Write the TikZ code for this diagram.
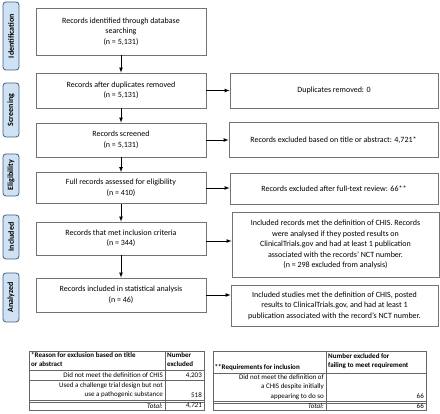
\documentclass[tikz,border=0pt]{standalone}
\usepackage{fontspec}
\setmainfont{Carlito}
\usetikzlibrary{arrows,positioning}
\definecolor{stagefill}{RGB}{207,226,243}
\definecolor{stagedraw}{RGB}{62,96,132}
\tikzset{
	box/.style={draw=black!55, line width=0.8pt, align=center, inner sep=2pt,
			font=\fontsize{8}{10.5}\selectfont},
	stage/.style={draw=stagedraw, fill=stagefill, line width=0.8pt, rounded corners=3pt,
			rotate=90, minimum height=16pt, inner sep=0pt,
			font=\fontsize{8}{9}\selectfont\bfseries},
	flow/.style={-latex, line width=0.7pt},
	cell/.style={inner sep=1pt, font=\fontsize{7}{9.2}\selectfont},
	grid/.style={draw=black!60, line width=0.5pt}
}

\begin{document}
\begin{tikzpicture}[x=1pt,y=-1pt]
	\useasboundingbox (0,0) rectangle (440,414);

	% stages
	\node[stage, minimum width=68pt] (sid) at (11,36) {Identification};
	\node[stage, minimum width=54pt] (sscr) at (11,110) {Screening};
	\node[stage, minimum width=42pt] (sel) at (11,175) {Eligibility};
	\node[stage, minimum width=44pt] (sinc) at (11,237) {Included};
	\node[stage, minimum width=49pt] (sana) at (11,297.5) {Analyzed};

	% main flow
	\node[box, minimum width=170pt, minimum height=47pt] (ident) at (121,31.5)
		{Records identified through database\\searching\\(n = 5,131)};
	\node[box, minimum width=170pt, minimum height=35pt] (dupl) at (121,90.5)
		{Records after duplicates removed\\(n = 5,131)};
	\node[box, minimum width=170pt, minimum height=34pt] (scrn) at (121,140)
		{Records screened\\(n = 5,131)};
	\node[box, minimum width=170pt, minimum height=31pt] (full) at (121,188)
		{Full records assessed for eligibility\\(n = 410)};
	\node[box, minimum width=170pt, minimum height=33pt] (incl) at (121,238.5)
		{Records that met inclusion criteria\\(n = 344)};
	\node[box, minimum width=170pt, minimum height=34pt] (anal) at (121,295)
		{Records included in statistical analysis\\(n = 46)};

	% side boxes
	\node[box, minimum width=208pt, minimum height=35pt] (xdup) at (334,90.5)
		{Duplicates removed: 0};
	\node[box, minimum width=209pt, minimum height=35pt] (xscr) at (333.5,140)
		{Records excluded based on title or abstract: 4,721*};
	\node[box, minimum width=208pt, minimum height=31pt] (xfull) at (334,188.5)
		{Records excluded after full-text review: 66**};
	\node[box, minimum width=207pt, minimum height=65pt] (xincl) at (335.5,244.5)
		{Included records met the definition of CHIS. Records\\were analysed if they posted results on\\ClinicalTrials.gov and had at least 1 publication\\associated with the records' NCT number.\\(n = 298 excluded from analysis)};
	\node[box, minimum width=207pt, minimum height=41pt] (xanal) at (334.5,305.5)
		{Included studies met the definition of CHIS, posted\\results to ClinicalTrials.gov, and had at least 1\\publication associated with the record's NCT number.};

	\draw[flow] (ident) -- (dupl);
	\draw[flow] (dupl) -- (scrn);
	\draw[flow] (scrn) -- (full);
	\draw[flow] (full) -- (incl);
	\draw[flow] (incl) -- (anal);
	\draw[flow] (dupl.east) -- (dupl.east -| xdup.west);
	\draw[flow] (scrn.east) -- (scrn.east -| xscr.west);
	\draw[flow] (full.east) -- (full.east -| xfull.west);
	\draw[flow] ([yshift=-2.5pt]incl.east) -- ([yshift=-2.5pt]incl.east -| xincl.west);
	\draw[flow] (anal.east) -- (anal.east -| xanal.west);

	% table of reasons
	\draw[grid] (29,351) rectangle (204,410);
	\draw[grid] (165,351) -- (165,410);
	\draw[grid] (29,370) -- (204,370) (29,380) -- (204,380);
	\draw[grid] (29,400.3) -- (204,400.3) (29,401.9) -- (204,401.9);
	\node[cell, anchor=north west, align=left, font=\fontsize{7}{9.2}\selectfont\bfseries] (rhead) at (30,351.5)
		{*Reason for exclusion based on title\\or abstract};
	\node[cell, anchor=north west, align=left, font=\fontsize{7}{9.2}\selectfont\bfseries] (nhead) at (166,351.5)
		{Number\\excluded};
	\node[cell, anchor=east] (rone) at (164,375.3) {Did not meet the definition of CHIS};
	\node[cell, anchor=east] (none) at (203,375.3) {4,203};
	\node[cell, anchor=east, align=right] (rtwo) at (164,390.2)
		{Used a challenge trial design but not\\use a pathogenic substance};
	\node[cell, anchor=east] (ntwo) at (203,395.2) {518};
	\node[cell, anchor=east] (rtot) at (164,406) {\textit{Total:}};
	\node[cell, anchor=east] (ntot) at (203,406) {\textit{4,721}};

	% table of requirements
	\draw[grid] (213,351) rectangle (426,410);
	\draw[grid] (326,351) -- (326,410);
	\draw[grid] (213,373) -- (426,373);
	\draw[grid] (213,401.3) -- (426,401.3) (213,402.9) -- (426,402.9);
	\node[cell, anchor=west, font=\fontsize{7}{9.2}\selectfont\bfseries] (qhead) at (213.5,367.5)
		{**Requirements for inclusion};
	\node[cell, anchor=north west, align=left, font=\fontsize{7}{9.2}\selectfont\bfseries] (mhead) at (327,352.5)
		{Number excluded for\\failing to meet requirement};
	\node[cell, anchor=east, align=right] (qone) at (325,387)
		{Did not meet the definition of\\a CHIS despite initially\\appearing to do so};
	\node[cell, anchor=east] (mone) at (425,396.5) {66};
	\node[cell, anchor=east] (qtot) at (325,406.5) {\textit{Total:}};
	\node[cell, anchor=east] (mtot) at (425,406.5) {66};
\end{tikzpicture}
\end{document}
